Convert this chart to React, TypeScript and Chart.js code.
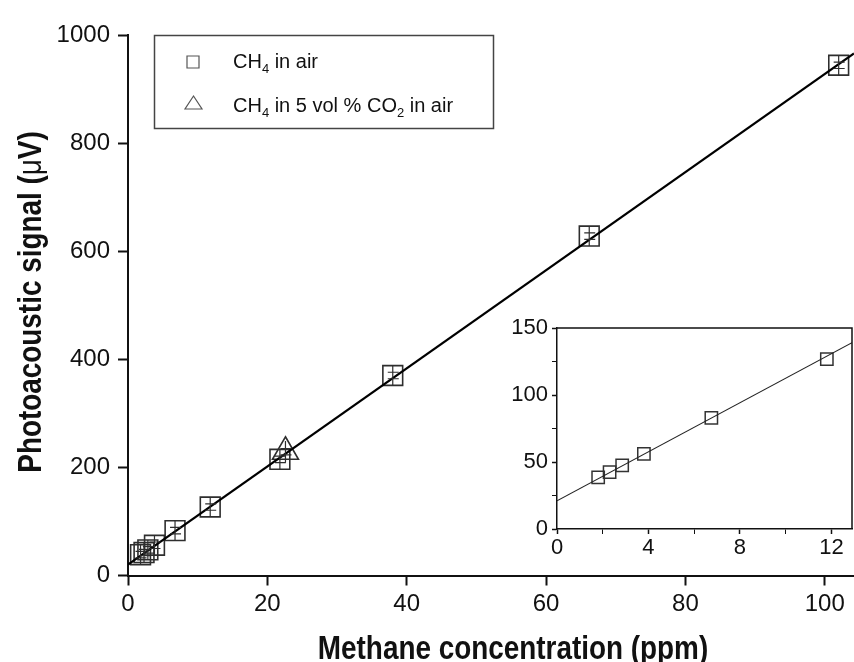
import React, { useEffect, useRef } from 'react';
import { Chart, registerables } from 'chart.js';

Chart.register(...registerables);

// ---------- data ----------
const airConc = [1.8, 2.3, 2.85, 3.8, 6.75, 11.8, 21.8, 38.0, 66.2, 102.0];
const airSignal = [38.5, 42.5, 47.5, 56, 83, 126.7, 215, 370, 628, 944];
const airErr = [6, 6, 6, 6, 6, 6, 6, 6, 6, 6];
const co2Conc = [22.6];
const co2Signal = [229];
const co2Err = [6];
const fitConc = [0, 104.2];
const fitSignal = [20, 966];
const insetCount = 6;
const insetFitConc = [0, 12.9];
const insetFitSignal = [21, 139];

const xTicks = [0, 20, 40, 60, 80, 100];
const yTicks = [0, 200, 400, 600, 800, 1000];
const insetXTicks = [0, 4, 8, 12];
const insetXMinor = [2, 6, 10];
const insetYTicks = [0, 50, 100, 150];
const insetYMinor = [25, 75, 125];

const xTitle = 'Methane concentration (ppm)';
const yTitleParts: [string, string][] = [
  ['Photoacoustic signal (', 'bold'],
  ['\u03bc', 'normal'],
  ['V)', 'bold'],
];
const legendEntries: { marker: string; parts: [string, boolean][] }[] = [
  { marker: 'rect', parts: [['CH', false], ['4', true], [' in air', false]] },
  {
    marker: 'triangle',
    parts: [['CH', false], ['4', true], [' in 5 vol % CO', false], ['2', true], [' in air', false]],
  },
];

const SANS = "'Liberation Sans', Arial, sans-serif";
const NARROW_SCALE = 0.82;
const INK = '#111';
const MARK = '#2e2e2e';

const toPts = (xs: number[], ys: number[]) => xs.map((x, i) => ({ x, y: ys[i] }));

const errorBarPlugin = {
  id: 'errorBars',
  afterDatasetsDraw(chart: any) {
    const ctx = chart.ctx;
    const ys = chart.scales.y;
    chart.data.datasets.forEach((ds: any, i: number) => {
      const errs = ds.errY;
      if (!errs) return;
      const meta = chart.getDatasetMeta(i);
      meta.data.forEach((pt: any, j: number) => {
        const v = ds.data[j].y;
        const top = ys.getPixelForValue(v + errs[j]);
        const bot = ys.getPixelForValue(v - errs[j]);
        const half = ds.pointRadius * Math.SQRT1_2;
        ctx.save();
        ctx.strokeStyle = ds.borderColor;
        ctx.lineWidth = 1.2;
        ctx.beginPath();
        ctx.moveTo(pt.x, pt.y - half);
        ctx.lineTo(pt.x, pt.y + half);
        ctx.moveTo(pt.x - 5, top);
        ctx.lineTo(pt.x + 6, top);
        ctx.moveTo(pt.x - 5, bot);
        ctx.lineTo(pt.x + 6, bot);
        ctx.stroke();
        ctx.restore();
      });
    });
  },
};

const decorPlugin = {
  id: 'decor',
  afterDraw(chart: any) {
    const ctx = chart.ctx;
    ctx.save();
    ctx.fillStyle = INK;
    // x title (condensed bold)
    ctx.save();
    ctx.font = `bold 34px ${SANS}`;
    ctx.textAlign = 'left';
    ctx.textBaseline = 'alphabetic';
    const xw = ctx.measureText(xTitle).width;
    ctx.translate(513, 659);
    ctx.scale(NARROW_SCALE, 1);
    ctx.fillText(xTitle, -xw / 2, 0);
    ctx.restore();
    // y title (rotated, mixed weights, condensed)
    ctx.save();
    ctx.textAlign = 'left';
    ctx.textBaseline = 'alphabetic';
    ctx.translate(41, 302);
    ctx.rotate(-Math.PI / 2);
    ctx.scale(NARROW_SCALE, 1);
    let total = 0;
    const widths = yTitleParts.map(([t, w]) => {
      ctx.font = `${w} 34px ${SANS}`;
      const m = ctx.measureText(t).width;
      total += m;
      return m;
    });
    let cx = -total / 2;
    yTitleParts.forEach(([t, w], i) => {
      ctx.font = `${w} 34px ${SANS}`;
      ctx.fillText(t, cx, 0);
      cx += widths[i];
    });
    ctx.restore();
    // legend box
    ctx.strokeStyle = '#444';
    ctx.lineWidth = 1.5;
    ctx.strokeRect(154.5, 35.5, 339, 93);
    const rows = [62, 104];
    const baselines = [68, 112];
    ctx.textAlign = 'left';
    ctx.textBaseline = 'alphabetic';
    legendEntries.forEach((e, i) => {
      ctx.strokeStyle = '#555';
      ctx.lineWidth = 1.2;
      ctx.beginPath();
      if (e.marker === 'rect') {
        ctx.rect(187, rows[i] - 6, 12, 12);
      } else {
        ctx.moveTo(193.5, rows[i] - 8);
        ctx.lineTo(202, rows[i] + 5);
        ctx.lineTo(185, rows[i] + 5);
        ctx.closePath();
      }
      ctx.stroke();
      let tx = 233;
      e.parts.forEach(([t, sub]) => {
        ctx.font = sub ? `13px ${SANS}` : `20px ${SANS}`;
        ctx.fillText(t, tx, baselines[i] + (sub ? 5 : 0));
        tx += ctx.measureText(t).width;
      });
    });
    ctx.restore();
  },
};

const framePlugin = {
  id: 'frame',
  afterDraw(chart: any) {
    const { ctx, chartArea } = chart;
    ctx.save();
    ctx.strokeStyle = INK;
    ctx.lineWidth = 1.5;
    ctx.beginPath();
    ctx.moveTo(chartArea.left, chartArea.top);
    ctx.lineTo(chartArea.right, chartArea.top);
    ctx.lineTo(chartArea.right, chartArea.bottom);
    ctx.stroke();
    ctx.restore();
  },
};

const noPadX = (h: number) => (s: any) => {
  s.height = h;
  s.paddingLeft = 0;
  s.paddingRight = 0;
};
const noPadY = (w: number) => (s: any) => {
  s.width = w;
  s.paddingTop = 0;
  s.paddingBottom = 0;
};

export default function App() {
  const mainRef = useRef<HTMLCanvasElement>(null);
  const insetRef = useRef<HTMLCanvasElement>(null);

  useEffect(() => {
    const main = new Chart(mainRef.current as HTMLCanvasElement, {
      type: 'scatter',
      data: {
        datasets: [
          {
            type: 'line',
            label: 'fit',
            data: toPts(fitConc, fitSignal),
            borderColor: '#000',
            borderWidth: 2.2,
            pointRadius: 0,
            fill: false,
          } as any,
          {
            label: 'CH4 in air',
            data: toPts(airConc, airSignal),
            pointStyle: 'rect',
            pointRadius: 14,
            borderColor: MARK,
            backgroundColor: 'rgba(0,0,0,0)',
            pointBorderWidth: 1.6,
            errY: airErr,
          } as any,
          {
            label: 'CH4 in 5 vol % CO2 in air',
            data: toPts(co2Conc, co2Signal),
            pointStyle: 'triangle',
            pointRadius: 15,
            borderColor: MARK,
            backgroundColor: 'rgba(0,0,0,0)',
            pointBorderWidth: 1.6,
            errY: co2Err,
          } as any,
        ],
      },
      options: {
        responsive: false,
        animation: false,
        layout: { autoPadding: false, padding: { top: 35, left: 0, right: 0, bottom: 0 } },
        plugins: { legend: { display: false }, tooltip: { enabled: false } },
        scales: {
          x: {
            type: 'linear',
            min: 0,
            max: 104.2,
            afterBuildTicks: (s: any) => {
              s.ticks = xTicks.map((v) => ({ value: v }));
            },
            afterFit: noPadX(86.5),
            grid: { drawOnChartArea: false, drawTicks: true, tickLength: 10, tickWidth: 2, tickColor: INK },
            border: { display: true, color: INK, width: 2 },
            ticks: {
              font: { family: SANS, size: 24 },
              color: INK,
              padding: 4,
              maxRotation: 0,
              callback: (v: any) => String(v),
            },
          },
          y: {
            type: 'linear',
            min: 0,
            max: 1000,
            afterBuildTicks: (s: any) => {
              s.ticks = yTicks.map((v) => ({ value: v }));
            },
            afterFit: noPadY(128),
            grid: { drawOnChartArea: false, drawTicks: true, tickLength: 10, tickWidth: 2, tickColor: INK },
            border: { display: true, color: INK, width: 2 },
            ticks: { font: { family: SANS, size: 24 }, color: INK, padding: 8, callback: (v: any) => String(v) },
          },
        },
      } as any,
      plugins: [errorBarPlugin, decorPlugin],
    });

    const inset = new Chart(insetRef.current as HTMLCanvasElement, {
      type: 'scatter',
      data: {
        datasets: [
          {
            type: 'line',
            label: 'fit',
            data: toPts(insetFitConc, insetFitSignal),
            borderColor: '#222',
            borderWidth: 1.1,
            pointRadius: 0,
            fill: false,
          } as any,
          {
            label: 'CH4 in air',
            data: toPts(airConc.slice(0, insetCount), airSignal.slice(0, insetCount)),
            pointStyle: 'rect',
            pointRadius: 8.7,
            borderColor: '#333',
            backgroundColor: 'rgba(0,0,0,0)',
            pointBorderWidth: 1.5,
          } as any,
        ],
      },
      options: {
        responsive: false,
        animation: false,
        layout: { autoPadding: false, padding: { top: 23, left: 0, right: 2, bottom: 0 } },
        plugins: { legend: { display: false }, tooltip: { enabled: false } },
        scales: {
          x: {
            type: 'linear',
            min: 0,
            max: 12.9,
            afterBuildTicks: (s: any) => {
              s.ticks = [...insetXTicks, ...insetXMinor].sort((a, b) => a - b).map((v) => ({ value: v }));
            },
            afterFit: noPadX(38),
            grid: {
              drawOnChartArea: false,
              drawTicks: true,
              tickLength: 5,
              tickWidth: (c: any) => (insetXMinor.includes(c.tick?.value) ? 1 : 1.5),
              tickColor: INK,
            },
            border: { display: true, color: INK, width: 1.5 },
            ticks: {
              font: { family: SANS, size: 22 },
              color: INK,
              padding: 1,
              maxRotation: 0,
              autoSkip: false,
              callback: (v: any) => (insetXTicks.includes(v) ? String(v) : ''),
            },
          },
          y: {
            type: 'linear',
            min: 0,
            max: 150,
            afterBuildTicks: (s: any) => {
              s.ticks = [...insetYTicks, ...insetYMinor].sort((a, b) => a - b).map((v) => ({ value: v }));
            },
            afterFit: noPadY(67),
            grid: {
              drawOnChartArea: false,
              drawTicks: true,
              tickLength: 5,
              tickWidth: (c: any) => (insetYMinor.includes(c.tick?.value) ? 1 : 1.5),
              tickColor: INK,
            },
            border: { display: true, color: INK, width: 1.5 },
            ticks: {
              font: { family: SANS, size: 22 },
              color: INK,
              padding: 4,
              autoSkip: false,
              callback: (v: any) => (insetYTicks.includes(v) ? String(v) : ''),
            },
          },
        },
      } as any,
      plugins: [framePlugin],
    });

    return () => {
      main.destroy();
      inset.destroy();
    };
  }, []);

  return (
    <div style={{ position: 'fixed', left: 0, top: 0, width: 854, height: 662, background: '#fff' }}>
      <canvas ref={mainRef} width={854} height={662} style={{ position: 'absolute', left: 0, top: 0 }} />
      <canvas ref={insetRef} width={364} height={262} style={{ position: 'absolute', left: 490, top: 305 }} />
    </div>
  );
}
